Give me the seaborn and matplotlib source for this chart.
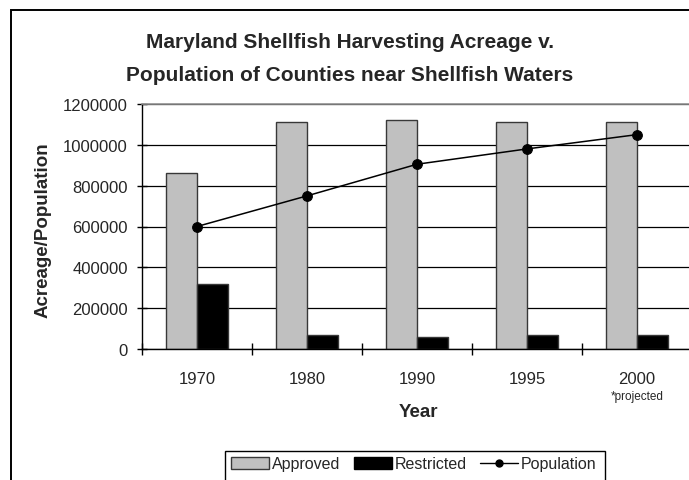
import matplotlib
matplotlib.use('Agg')
import matplotlib.pyplot as plt
from matplotlib.patches import Patch, Rectangle
from matplotlib.lines import Line2D
import numpy as np
import pandas as pd
import seaborn as sns

# values
years = ['1970', '1980', '1990', '1995', '2000']
approved = [860000, 1110000, 1120000, 1110000, 1110000]
restricted = [320000, 68000, 60000, 68000, 68000]
population = [600000, 750000, 905000, 980000, 1050000]

sns.set_style('white')
plt.rcParams['font.family'] = ['Liberation Sans', 'DejaVu Sans']

df = pd.DataFrame({
    'year': years * 2,
    'type': ['Approved'] * len(years) + ['Restricted'] * len(years),
    'value': approved + restricted,
})

W, H = 689, 481
fig = plt.figure(figsize=(W / 100, H / 100), dpi=100)
ax = fig.add_axes([142 / W, (H - 350) / H, 550 / W, 245 / H])

ax.set_axisbelow(True)
ax.yaxis.grid(True, color='black', linewidth=0.9)

sns.barplot(data=df, x='year', y='value', hue='type', order=years,
            palette=['#c0c0c0', 'black'], width=0.57, gap=0, saturation=1,
            edgecolor='#383838', linewidth=1, legend=False, ax=ax)

sns.lineplot(x=np.arange(len(years)), y=population, color='black',
             marker='o', markersize=7, markeredgecolor='black',
             linewidth=1.1, ax=ax, zorder=5)

ax.set_xlim(-0.5, len(years) - 0.5)
ax.set_ylim(0, 1200000)
ax.set_yticks(np.arange(0, 1200001, 200000))
ax.set_yticklabels([str(v) for v in range(0, 1200001, 200000)])
ax.set_xticks(np.arange(len(years)))
ax.set_xticklabels(years)
ax.set_xlabel('')
ax.set_ylabel('')

# category boundaries carry the x tick marks
ax.set_xticks(np.arange(len(years) + 1) - 0.5, minor=True)
ax.tick_params(axis='x', which='both', bottom=True)
ax.tick_params(axis='x', which='major', length=0, pad=16, labelsize=12)
ax.tick_params(axis='x', which='minor', direction='inout', length=8.5,
               width=1, color='black')
ax.tick_params(axis='y', left=True, direction='inout', length=7.2, width=1,
               color='black', pad=6.5, labelsize=12)

for s in ['left', 'bottom']:
    ax.spines[s].set_color('black')
    ax.spines[s].set_linewidth(1)
ax.spines['top'].set_color('#909090')
ax.spines['top'].set_linewidth(1.2)
ax.spines['right'].set_visible(False)

ax.text(4, -0.192, '*projected', transform=ax.get_xaxis_transform(),
        ha='center', va='center', fontsize=8.5)

# titles and axis labels
fig.text(350 / W, 1 - 48 / H, 'Maryland Shellfish Harvesting Acreage v.',
         ha='center', va='baseline', fontsize=15, fontweight='bold')
fig.text(350 / W, 1 - 81 / H, 'Population of Counties near Shellfish Waters',
         ha='center', va='baseline', fontsize=15, fontweight='bold')
fig.text(43 / W, 1 - 230 / H, 'Acreage/Population', rotation=90,
         ha='center', va='center', fontsize=13.5, fontweight='bold')
fig.text(418 / W, 1 - 413 / H, 'Year', ha='center', va='center',
         fontsize=13.5, fontweight='bold')

# legend
handles = [Patch(facecolor='#c0c0c0', edgecolor='#383838', linewidth=1),
           Patch(facecolor='black', edgecolor='black'),
           Line2D([], [], color='black', marker='o', markersize=5, linewidth=1)]
fig.legend(handles, ['Approved', 'Restricted', 'Population'],
           loc='center left', bbox_to_anchor=(231 / W, 1 - 465 / H),
           ncol=3, frameon=False, fontsize=11.5, handlelength=2.4,
           handletextpad=0.15, columnspacing=0.85, borderpad=0,
           borderaxespad=0)
fig.add_artist(Rectangle((225 / W, -0.1), 380 / W, (H - 452) / H + 0.1,
                         transform=fig.transFigure, fill=False,
                         edgecolor='black', linewidth=1))

# outer chart frame
fig.add_artist(Rectangle((11 / W, -0.1), 1.0, 1 - 10.5 / H + 0.1,
                         transform=fig.transFigure, fill=False,
                         edgecolor='black', linewidth=1.4))

fig.savefig('out.png', dpi=100)
